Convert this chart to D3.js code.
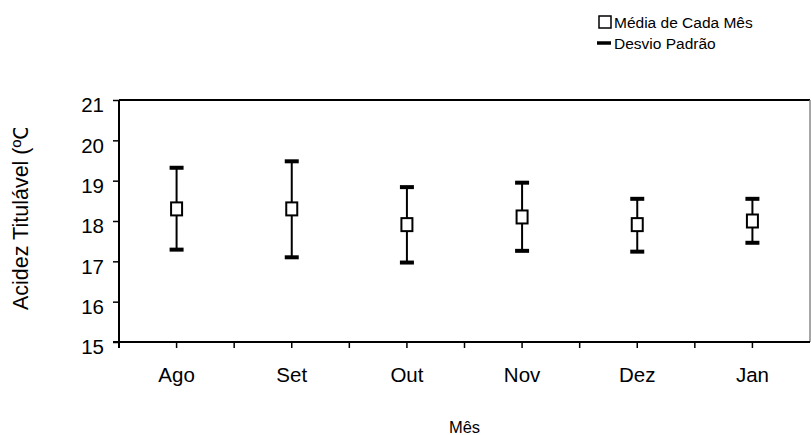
<!DOCTYPE html>
<html>
<head>
<meta charset="utf-8">
<script src="https://cdn.jsdelivr.net/npm/d3@7"></script>
<style>
  html, body { margin: 0; padding: 0; background: #fff; }
  svg { display: block; }
  svg text { font-family: "Liberation Sans", Arial, Helvetica, sans-serif; }
</style>
</head>
<body>
<svg id="chart" width="811" height="435"></svg>
<script>
// ---- data ----
const months = ["Ago", "Set", "Out", "Nov", "Dez", "Jan"];
const means  = [18.30, 18.30, 17.91, 18.10, 17.91, 18.00];
const upper  = [19.32, 19.48, 18.84, 18.95, 18.55, 18.55];
const lower  = [17.29, 17.10, 16.97, 17.26, 17.24, 17.46];
const yTicks = [15, 16, 17, 18, 19, 20, 21];
const yTitle = "Acidez Titulável (ºC";
const xTitle = "Mês";
const legendLabels = ["Média de Cada Mês", "Desvio Padrão"];

const FONT = "Liberation Sans, Arial, Helvetica, sans-serif";

// ---- layout ----
const svg = d3.select("#chart");
const m = { left: 119, right: 810, top: 100, bottom: 342 };

const x = d3.scaleBand().domain(months).range([m.left, m.right]).padding(0);
const y = d3.scaleLinear().domain([15, 21]).range([m.bottom, m.top]);

// plot frame: top (black) and right (gray)
svg.append("line").attr("x1", m.left).attr("x2", m.right).attr("y1", m.top).attr("y2", m.top)
  .attr("stroke", "#000").attr("stroke-width", 2);
svg.append("line").attr("x1", m.right).attr("x2", m.right).attr("y1", m.top).attr("y2", m.bottom)
  .attr("stroke", "#888").attr("stroke-width", 1.5);

// y axis
const yAxis = svg.append("g").attr("transform", `translate(${m.left},0)`)
  .call(d3.axisLeft(y).tickValues(yTicks).tickSize(6).tickFormat(d3.format("d")))
  .attr("font-family", FONT);
yAxis.select(".domain").attr("stroke", "#000").attr("stroke-width", 2)
  .attr("d", `M0,${m.top}V${m.bottom + 6}`);
yAxis.selectAll(".tick line").attr("stroke", "#000").attr("stroke-width", 1.5);
yAxis.selectAll(".tick text").attr("font-size", 20.5).attr("fill", "#000")
  .attr("font-family", FONT)
  .attr("x", -15).attr("dy", "0.58em");

// x axis: labels at band centers, tick marks at centers and boundaries
const tickPos = [];
months.forEach((mo) => {
  tickPos.push(x(mo));
  tickPos.push(x(mo) + x.bandwidth() / 2);
});
const xAxis = svg.append("g").attr("transform", `translate(0,${m.bottom})`);
xAxis.append("line").attr("x1", m.left - 6).attr("x2", m.right).attr("y1", 0).attr("y2", 0)
  .attr("stroke", "#000").attr("stroke-width", 2);
xAxis.selectAll("line.tk").data(tickPos).join("line").attr("class", "tk")
  .attr("x1", d => d).attr("x2", d => d).attr("y1", 0).attr("y2", 6)
  .attr("stroke", "#000").attr("stroke-width", 1.5);
xAxis.selectAll("text").data(months).join("text")
  .attr("x", d => x(d) + x.bandwidth() / 2).attr("y", 40)
  .attr("text-anchor", "middle").attr("font-size", 20.5).attr("fill", "#000")
  .attr("font-family", FONT)
  .text(d => d);

// axis titles
svg.append("text").attr("x", (m.left + m.right) / 2).attr("y", 433)
  .attr("text-anchor", "middle").attr("font-size", 16.5).attr("font-family", FONT).text(xTitle);

// y title, clipped at the top as in the original
svg.append("clipPath").attr("id", "ytclip")
  .append("rect").attr("x", 0).attr("y", 128).attr("width", 60).attr("height", 300);
svg.append("g").attr("clip-path", "url(#ytclip)")
  .append("text").attr("transform", "translate(28,310) rotate(-90)")
  .attr("text-anchor", "start").attr("font-size", 21.5).attr("font-family", FONT).text(yTitle);

// error bars + markers
const g = svg.append("g");
const capW = 14;
months.forEach((mo, i) => {
  const cx = x(mo) + x.bandwidth() / 2;
  g.append("line").attr("x1", cx).attr("x2", cx).attr("y1", y(lower[i])).attr("y2", y(upper[i]))
    .attr("stroke", "#000").attr("stroke-width", 2);
  [upper[i], lower[i]].forEach(v => {
    g.append("line").attr("x1", cx - capW / 2).attr("x2", cx + capW / 2)
      .attr("y1", y(v)).attr("y2", y(v)).attr("stroke", "#000").attr("stroke-width", 4);
  });
  g.append("rect").attr("x", cx - 5.5).attr("y", y(means[i]) - 6.5)
    .attr("width", 11).attr("height", 13)
    .attr("fill", "#fff").attr("stroke", "#000").attr("stroke-width", 2);
});

// legend
const lg = svg.append("g").attr("font-family", FONT);
lg.append("rect").attr("x", 599).attr("y", 16).attr("width", 12).attr("height", 12)
  .attr("fill", "#fff").attr("stroke", "#000").attr("stroke-width", 1.5);
lg.append("text").attr("x", 614).attr("y", 28).attr("font-size", 15.5).text(legendLabels[0]);
lg.append("line").attr("x1", 597).attr("x2", 611).attr("y1", 43).attr("y2", 43)
  .attr("stroke", "#000").attr("stroke-width", 3.5);
lg.append("text").attr("x", 614).attr("y", 49).attr("font-size", 15.5).text(legendLabels[1]);
</script>
</body>
</html>
